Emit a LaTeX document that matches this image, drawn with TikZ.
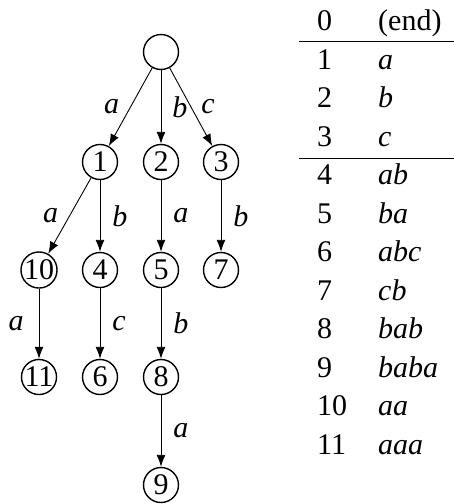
\documentclass[tikz,border=0pt]{standalone}
\usepackage{fontspec}
\setmainfont{Liberation Serif}
\usetikzlibrary{arrows.meta}
\begin{document}
\begin{tikzpicture}[x=1pt,y=-1pt,
  font=\fontsize{30}{36}\selectfont,
  st/.style={circle,draw,line width=1.4pt,minimum size=35pt,inner sep=0pt},
  edge/.style={draw,line width=0.9pt,-{Latex[length=12pt,width=9pt]}},
  lab/.style={inner sep=0pt,font=\fontsize{30}{36}\selectfont\itshape},
  cell/.style={anchor=base west,inner sep=0pt},
  rule/.style={line width=1pt}]
\useasboundingbox (0,0) rectangle (454,504);
% tree
\node[st] (r) at (161,52) {};
\node[st] (t1) at (100,162) {1};
\node[st] (t2) at (161,162) {2};
\node[st] (t3) at (221,162) {3};
\node[st] (t10) at (39,270) {10};
\node[st] (t4) at (100,270) {4};
\node[st] (t5) at (161,270) {5};
\node[st] (t7) at (221,270) {7};
\node[st] (t11) at (39,377) {11};
\node[st] (t6) at (100,377) {6};
\node[st] (t8) at (161,377) {8};
\node[st] (t9) at (161,485) {9};
\draw[edge] (r) -- node[lab,midway,left=11pt] {a} (t1);
\draw[edge] (r) -- node[lab,midway,right=11pt] {b} (t2);
\draw[edge] (r) -- node[lab,midway,right=10pt] {c} (t3);
\draw[edge] (t1) -- node[lab,midway,left=11pt] {a} (t10);
\draw[edge] (t1) -- node[lab,midway,right=12pt] {b} (t4);
\draw[edge] (t2) -- node[lab,midway,right=12pt] {a} (t5);
\draw[edge] (t3) -- node[lab,midway,right=12pt] {b} (t7);
\draw[edge] (t10) -- node[lab,midway,left=15pt] {a} (t11);
\draw[edge] (t4) -- node[lab,midway,right=12pt] {c} (t6);
\draw[edge] (t5) -- node[lab,midway,right=12pt] {b} (t8);
\draw[edge] (t8) -- node[lab,midway,right=12pt] {a} (t9);
% table
\node[cell] (k0) at (317,30.7) {0};
\node[cell] (v0) at (378,30.7) {(end)};
\node[cell] (k1) at (317,69.2) {1};
\node[cell] (v1) at (378,69.2) {\itshape a};
\node[cell] (k2) at (317,107.7) {2};
\node[cell] (v2) at (378,107.7) {\itshape b};
\node[cell] (k3) at (317,146.2) {3};
\node[cell] (v3) at (378,146.2) {\itshape c};
\node[cell] (k4) at (317,184.7) {4};
\node[cell] (v4) at (378,184.7) {\itshape ab};
\node[cell] (k5) at (317,223.2) {5};
\node[cell] (v5) at (378,223.2) {\itshape ba};
\node[cell] (k6) at (317,261.7) {6};
\node[cell] (v6) at (378,261.7) {\itshape abc};
\node[cell] (k7) at (317,300.2) {7};
\node[cell] (v7) at (378,300.2) {\itshape cb};
\node[cell] (k8) at (317,338.7) {8};
\node[cell] (v8) at (378,338.7) {\itshape bab};
\node[cell] (k9) at (317,377.2) {9};
\node[cell] (v9) at (378,377.2) {\itshape baba};
\node[cell] (k10) at (317,415.7) {10};
\node[cell] (v10) at (378,415.7) {\itshape aa};
\node[cell] (k11) at (317,454.2) {11};
\node[cell] (v11) at (378,454.2) {\itshape aaa};
\coordinate (ra1) at (299,41.7);
\coordinate (ra2) at (454,41.7);
\coordinate (rb1) at (299,158);
\coordinate (rb2) at (454,158);
\draw[rule] (ra1) -- (ra2);
\draw[rule] (rb1) -- (rb2);
\end{tikzpicture}
\end{document}
